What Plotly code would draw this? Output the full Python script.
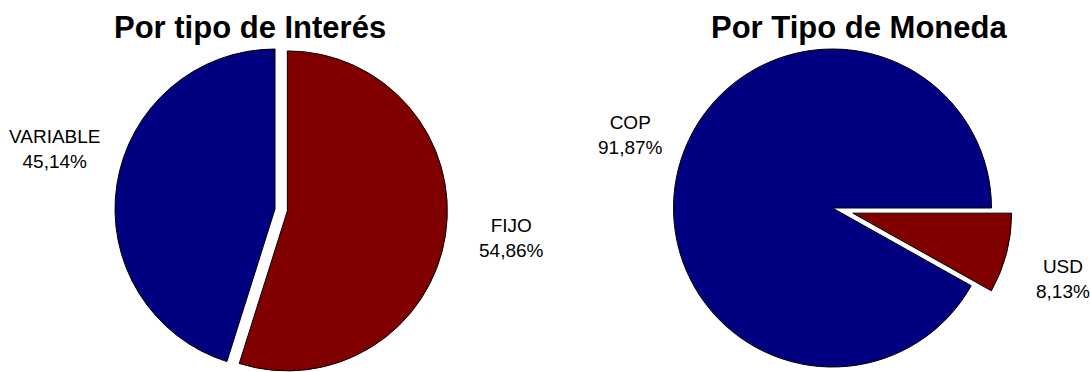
import math
import plotly.graph_objects as go

# ---- data ----
interes_labels = ["FIJO", "VARIABLE"]
interes_values = [54.86, 45.14]
moneda_labels = ["USD", "COP"]
moneda_values = [8.13, 91.87]
titles = ["Por tipo de Interés", "Por Tipo de Moneda"]

NAVY = "#000080"
MAROON = "#800000"
W, H = 1090, 372
FONT = "Liberation Sans, Arial, sans-serif"


def fmt(v):
    return f"{v:.2f}".replace(".", ",") + "%"


def px_domain(cx, cy, r):
    return dict(x=[(cx - r) / W, (cx + r) / W],
                y=[max(0.0, 1 - (cy + r) / H), min(1.0, 1 - (cy - r) / H)])


def slice_mid(values, idx, rotation):
    tot = sum(values)
    start = rotation + 360 * sum(values[:idx]) / tot
    return math.radians(start + 180 * values[idx] / tot)


def add_pie(fig, labels, values, colors, rotation, cx, cy, r, pulls):
    n = len(values)
    for i in range(n):
        mid = slice_mid(values, i, rotation)
        d = pulls[i]
        ox, oy = d * math.sin(mid), -d * math.cos(mid)
        cols = ["rgba(0,0,0,0)"] * n
        cols[i] = colors[i]
        widths = [0] * n
        widths[i] = 1
        fig.add_trace(go.Pie(
            labels=labels, values=values, sort=False, direction="clockwise",
            rotation=rotation, textinfo="none", hoverinfo="skip",
            showlegend=False,
            marker=dict(colors=cols, line=dict(color="black", width=widths)),
            domain=px_domain(cx + ox, cy + oy, r),
        ))


fig = go.Figure()
add_pie(fig, interes_labels, interes_values, [MAROON, NAVY], 0,
        275, 209, 160, [12.5, 0])
add_pie(fig, moneda_labels, moneda_values, [MAROON, NAVY], 90,
        832.5, 208, 159, [21, 0])

annots = []
for t, x in zip(titles, [250, 859]):
    annots.append(dict(text=f"<b>{t}</b>", x=x / W, y=1 - 27.5 / H,
                       xref="paper", yref="paper", showarrow=False,
                       xanchor="center", yanchor="middle",
                       font=dict(family=FONT, size=31, color="black")))

label_pos = {
    "FIJO": (511, 238), "VARIABLE": (55, 149),
    "USD": (1063, 279), "COP": (630, 135),
}
for labs, vals in [(interes_labels, interes_values), (moneda_labels, moneda_values)]:
    for lab, v in zip(labs, vals):
        x, y = label_pos[lab]
        annots.append(dict(text=f"{lab}<br>{fmt(v)}", x=x / W, y=1 - y / H,
                           xref="paper", yref="paper", showarrow=False,
                           xanchor="center", yanchor="middle", align="center",
                           font=dict(family=FONT, size=19, color="black")))

fig.update_layout(
    width=W, height=H, margin=dict(l=0, r=0, t=0, b=0),
    paper_bgcolor="white", plot_bgcolor="white",
    annotations=annots,
)
fig.write_html("out.html")
